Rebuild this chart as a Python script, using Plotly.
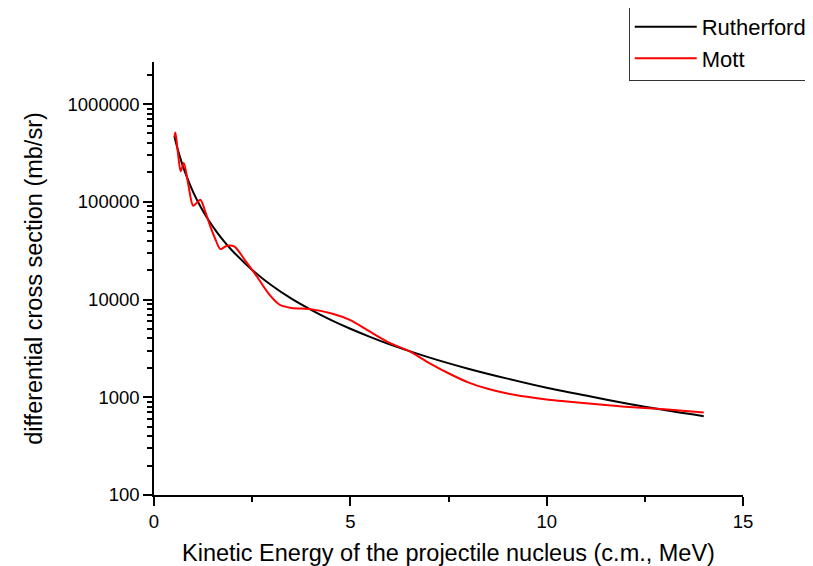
import plotly.graph_objects as go

# Rutherford cross section
ruth_E = [0.52, 0.6, 0.7, 0.8, 0.9, 1.0, 1.2, 1.4, 1.6, 1.8, 2.0, 2.5, 3.0, 3.5, 4.0, 4.5,
          5.0, 5.5, 6.0, 7.0, 8.0, 9.0, 10.0, 11.0, 12.0, 13.0, 14.0]
ruth_val = [464000, 348000, 256000, 196000, 155000, 125000, 87000, 64000, 49000, 38700,
            31400, 20100, 13900, 10200, 7840, 6190, 5020, 4150, 3480, 2560, 1960, 1550,
            1250, 1040, 870, 740, 640]

# Mott cross section
mott_E = [0.52, 0.545, 0.61, 0.68, 0.76, 0.875, 1.0, 1.18, 1.29, 1.42, 1.57, 1.69, 1.86,
          2.05, 2.31, 2.62, 2.94, 3.2, 3.5, 4.0, 4.55, 5.0, 5.49, 6.0, 6.5, 7.0, 7.5,
          8.0, 8.5, 9.0, 9.5, 10.0, 11.0, 12.0, 13.0, 14.0]
mott_val = [459000, 510000, 315000, 205000, 250000, 149000, 91000, 105000, 82800, 58000,
            40800, 32800, 35500, 34800, 25500, 17200, 11200, 8840, 8200, 7950, 7150, 6150,
            4710, 3600, 2960, 2250, 1760, 1420, 1220, 1090, 1010, 950, 870, 800, 752, 697]

y_major = [100, 1000, 10000, 100000, 1000000]
y_major_text = ["100", "1000", "10000", "100000", "1000000"]
y_minor = [m * d for d in [100, 1000, 10000, 100000, 1000000] for m in range(2, 10)]

FONT = "Liberation Sans, Arial, sans-serif"

fig = go.Figure()
fig.add_trace(go.Scatter(x=ruth_E, y=ruth_val, mode="lines", name="Rutherford",
                         line=dict(color="black", width=2, shape="spline", smoothing=0.8)))
fig.add_trace(go.Scatter(x=mott_E, y=mott_val, mode="lines", name="Mott",
                         line=dict(color="#ff0000", width=2, shape="spline", smoothing=0.8)))

fig.update_layout(
    width=805, height=558,
    paper_bgcolor="white", plot_bgcolor="white",
    margin=dict(l=146, r=70, t=54, b=71, autoexpand=False),
    font=dict(family=FONT, size=18.5, color="black"),
    showlegend=True,
    legend=dict(x=0.806, y=1.132, xanchor="left", yanchor="top",
                bgcolor="rgba(255,255,255,0)", bordercolor="#333333", borderwidth=1,
                font=dict(family=FONT, size=22, color="black"),
                itemwidth=62, tracegroupgap=0),
    xaxis=dict(
        range=[0, 15], showgrid=False, zeroline=False,
        showline=True, linecolor="black", linewidth=1.5, mirror=False,
        ticks="outside", ticklen=9, tickwidth=1.5, tickcolor="black",
        tickvals=[0, 5, 10, 15], ticktext=["0", "5", "10", "15"],
        tickfont=dict(size=18.5),
        minor=dict(tickvals=[2.5, 7.5, 12.5], ticks="outside", ticklen=5,
                   tickwidth=1.5, tickcolor="black", showgrid=False),
        title=dict(text="Kinetic Energy of the projectile nucleus (c.m., MeV)",
                   font=dict(size=23.5), standoff=21),
    ),
    yaxis=dict(
        type="log", range=[2, 6.43], showgrid=False, zeroline=False,
        showline=True, linecolor="black", linewidth=1.5, mirror=False,
        ticks="outside", ticklen=9, tickwidth=1.5, tickcolor="black",
        tickvals=y_major, ticktext=y_major_text,
        tickfont=dict(size=18.5),
        minor=dict(tickvals=y_minor, ticks="outside", ticklen=5,
                   tickwidth=1.5, tickcolor="black", showgrid=False),
        title=dict(text="differential cross section (mb/sr)\u00a0\u00a0\u00a0\u00a0",
                   font=dict(size=23.5), standoff=18),
    ),
)

fig.write_html("out.html")
